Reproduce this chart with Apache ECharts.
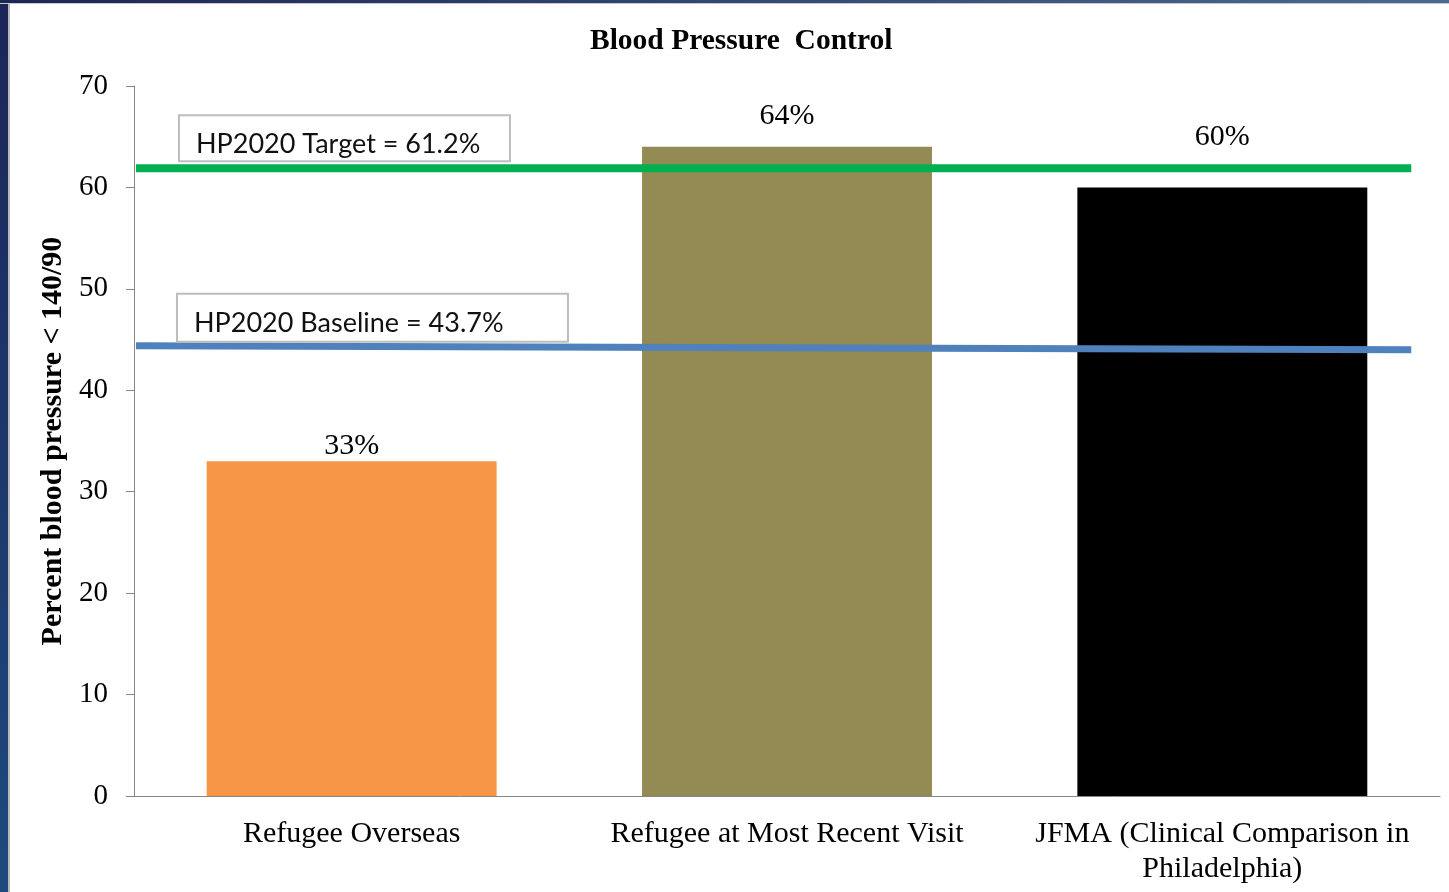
<!DOCTYPE html>
<html>
<head>
<meta charset="utf-8">
<script src="https://cdn.jsdelivr.net/npm/echarts@6/dist/echarts.min.js"></script>
<style>
  html, body { margin: 0; padding: 0; background: #fff; }
  #chart { position: absolute; left: 0; top: 0; width: 1449px; height: 892px; }
  .edge-left { position: absolute; left: 0; top: 0; width: 8px; height: 892px;
    background: linear-gradient(#1c2557, #1e4a7e); border-right: 2px solid #b8b8b8; z-index: 2; }
  .edge-top { position: absolute; left: 0; top: 0; width: 1449px; height: 3px;
    background: linear-gradient(90deg, #1c2557, #4a6a8e); border-bottom: 1px solid #c8c8c8; z-index: 2; }
</style>
</head>
<body>
<div id="chart"></div>
<div class="edge-left"></div>
<div class="edge-top"></div>
<script>
const categories = ['Refugee Overseas', 'Refugee at Most Recent Visit', 'JFMA (Clinical Comparison in\nPhiladelphia)']
const values = [33, 64, 60]
const barColors = ['#f79646', '#948a54', '#000000']
const labelLift = [0, 16, 35]
const yTicks = { min: 0, max: 70, interval: 10 }

// reference lines: [share of plot width, percent]
const targetLine = [[0.0015, 61.9], [0.978, 61.9]]
const baselineLine = [[0.0015, 44.4], [0.978, 44.0]]
const targetText = 'HP2020 Target = 61.2%'
const baselineText = 'HP2020 Baseline = 43.7%'

const serif = '"Liberation Serif", "Times New Roman", serif'
const sans = 'Lato, "Open Sans", sans-serif'

const chart = echarts.init(document.getElementById('chart'))

const boxLabel = (text, width, height, dx, dy) => ({
  show: true,
  formatter: text,
  position: [dx, dy],
  fontFamily: sans,
  fontSize: 27,
  color: '#111',
  width: width,
  height: height,
  lineHeight: height,
  backgroundColor: '#fff',
  borderColor: '#bdbdbd',
  borderWidth: 2,
  padding: [14, 16, 2, 16]
})

const refLine = (name, pts, color, width, label) => ({
  name: name,
  type: 'line',
  xAxisIndex: 1,
  symbol: 'circle',
  symbolSize: 0,
  silent: true,
  z: 5,
  lineStyle: { color: color, width: width },
  data: pts.map((p, i) => i === 0 ? { value: p, label: label } : { value: p })
})

chart.setOption({
  animation: false,
  title: {
    text: 'Blood Pressure  Control',
    left: 585,
    top: 21,
    textStyle: { fontFamily: serif, fontWeight: 'bold', fontSize: 29.5, color: '#000' }
  },
  grid: { left: 134, right: 9, top: 86, bottom: 96 },
  xAxis: [
    {
      type: 'category',
      data: categories,
      axisLine: { lineStyle: { color: '#868686', width: 1 } },
      axisTick: { length: 8, lineStyle: { color: '#868686' } },
      axisLabel: { interval: 0, fontFamily: serif, fontSize: 30, color: '#000', margin: 21, lineHeight: 35 }
    },
    { type: 'value', min: 0, max: 1, show: false }
  ],
  yAxis: {
    type: 'value',
    min: yTicks.min,
    max: yTicks.max,
    interval: yTicks.interval,
    name: 'Percent blood pressure < 140/90',
    nameLocation: 'middle',
    nameGap: 62,
    nameTextStyle: { fontFamily: serif, fontWeight: 'bold', fontSize: 30, color: '#000' },
    axisLine: { show: true, lineStyle: { color: '#868686', width: 1 } },
    axisTick: { show: true, length: 8, lineStyle: { color: '#868686' } },
    splitLine: { show: false },
    axisLabel: { fontFamily: serif, fontSize: 29, color: '#000', margin: 26 }
  },
  series: [
    {
      type: 'bar',
      barCategoryGap: '33.4%',
      data: values.map((v, i) => ({
        value: v,
        itemStyle: { color: barColors[i] },
        label: { distance: labelLift[i] }
      })),
      label: {
        show: true,
        position: 'top',
        formatter: '{c}%',
        fontFamily: serif,
        fontSize: 30,
        color: '#000'
      }
    },
    refLine('target', targetLine, '#00b050', 8, boxLabel(targetText, 297, 28, 44, -52)),
    refLine('baseline', baselineLine, '#4f81bd', 7, boxLabel(baselineText, 357, 30, 42, -51))
  ]
})
</script>
</body>
</html>
